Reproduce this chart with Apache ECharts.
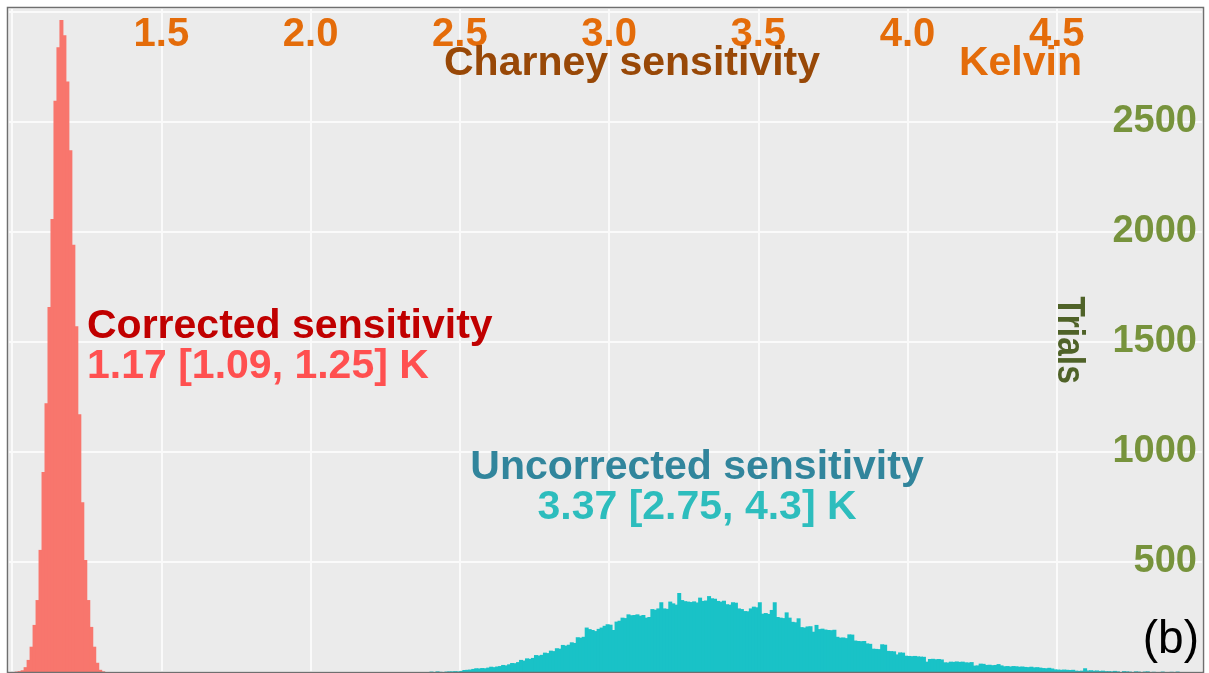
<!DOCTYPE html>
<html>
<head>
<meta charset="utf-8">
<script src="https://cdn.jsdelivr.net/npm/echarts@6/dist/echarts.min.js"></script>
<style>
  html, body { margin: 0; padding: 0; background: #fff; }
  #chart { width: 1209px; height: 673px; }
</style>
</head>
<body>
<div id="chart"></div>
<script>
// histogram bins, 0.01 K wide, counts
var binWidth = 0.01;

var correctedStart = 1.01;
var correctedCounts = [
  2, 4, 8, 22, 55, 115, 214, 327, 555, 909,
  1221, 1659, 2059, 2596, 2840, 2963, 2894, 2684, 2371, 1942,
  1572, 1172, 772, 509, 327, 205, 115, 42, 10, 3
];

var uncorrectedStart = 2.40;
var uncorrectedCounts = [
  2, 0, 3, 1, 0, 2, 3, 3, 4, 3,
  5, 9, 10, 11, 14, 17, 16, 18, 17, 20,
  24, 22, 25, 27, 32, 30, 35, 41, 40, 45,
  55, 52, 62, 60, 64, 77, 75, 78, 88, 86,
  97, 95, 108, 106, 123, 120, 124, 135, 132, 158,
  156, 160, 202, 195, 191, 186, 196, 202, 210, 217,
  215, 191, 229, 233, 247, 245, 262, 258, 259, 262,
  256, 259, 247, 250, 286, 283, 289, 317, 289, 287,
  320, 312, 306, 359, 327, 322, 320, 318, 321, 316,
  338, 323, 325, 345, 335, 333, 323, 320, 324, 308,
  306, 317, 315, 289, 286, 277, 276, 289, 297, 294,
  317, 265, 268, 264, 282, 317, 250, 247, 245, 271,
  247, 228, 226, 244, 204, 202, 207, 208, 183, 214,
  195, 197, 193, 191, 190, 192, 160, 156, 157, 154,
  171, 170, 143, 141, 140, 141, 130, 128, 106, 105,
  104, 126, 124, 96, 95, 94, 80, 89, 88, 74,
  73, 72, 73, 71, 70, 69, 47, 59, 60, 58,
  59, 57, 44, 43, 47, 46, 48, 46, 47, 44,
  43, 45, 29, 30, 38, 37, 32, 33, 31, 32,
  36, 30, 26, 27, 25, 27, 26, 24, 25, 23,
  22, 24, 21, 22, 20, 18, 17, 19, 16, 12,
  11, 10, 11, 10, 9, 10, 6, 5, 6, 17,
  7, 8, 6, 7, 5, 6, 4, 4, 3, 5,
  3, 0, 4, 3, 2, 0, 3, 2, 0, 2,
  3, 0, 1, 0, 0, 2, 0, 0, 1, 0, 2
];

var xTickLabels = ['1.5', '2.0', '2.5', '3.0', '3.5', '4.0', '4.5'];
var yTickLabels = ['500', '1000', '1500', '2000', '2500'];

var FONT = '"Liberation Sans", Arial, sans-serif';

function toBins(start, counts) {
  return counts.map(function (c, i) {
    var lo = +(start + i * binWidth).toFixed(2);
    return [lo, +(lo + binWidth).toFixed(2), c];
  });
}

function renderBin(params, api) {
  var top = api.coord([api.value(0), api.value(2)]);
  var bottom = api.coord([api.value(1), 0]);
  return {
    type: 'rect',
    shape: {
      x: top[0] - 0.5,
      y: top[1],
      width: bottom[0] - top[0] + 1,
      height: bottom[1] - top[1]
    },
    style: { fill: api.visual('color') }
  };
}

var chart = echarts.init(document.getElementById('chart'));

chart.setOption({
  backgroundColor: '#ffffff',
  animation: false,
  grid: {
    left: 8,
    right: 6,
    top: 8,
    bottom: 1,
    show: true,
    backgroundColor: '#EBEBEB',
    borderWidth: 0
  },
  xAxis: {
    type: 'value',
    position: 'top',
    min: 0.986,
    max: 4.99,
    splitNumber: 8,
    axisLine: { show: false },
    axisTick: { show: false },
    splitLine: { lineStyle: { color: '#FAFAFA', width: 2 } },
    axisLabel: {
      inside: true,
      margin: 7,
      color: '#E46C0A',
      fontFamily: FONT,
      fontWeight: 'bold',
      fontSize: 40,
      formatter: function (v) {
        var s = v.toFixed(1);
        return xTickLabels.indexOf(s) >= 0 && Math.abs(v - +s) < 1e-6 ? s : '';
      }
    }
  },
  yAxis: {
    type: 'value',
    position: 'right',
    min: 0,
    max: 3018,
    splitNumber: 6,
    axisLine: { show: false },
    axisTick: { show: false },
    splitLine: { lineStyle: { color: '#FAFAFA', width: 2 } },
    axisLabel: {
      inside: true,
      margin: 6,
      color: '#77933C',
      fontFamily: FONT,
      fontWeight: 'bold',
      fontSize: 38,
      formatter: function (v) {
        var s = String(Math.round(v));
        return yTickLabels.indexOf(s) >= 0 && Math.abs(v - +s) < 1e-6 ? s : '';
      }
    }
  },
  series: [
    {
      name: 'Corrected',
      type: 'custom',
      renderItem: renderBin,
      encode: { x: [0, 1], y: 2 },
      itemStyle: { color: '#F8766D' },
      clip: true,
      data: toBins(correctedStart, correctedCounts)
    },
    {
      name: 'Uncorrected',
      type: 'custom',
      renderItem: renderBin,
      encode: { x: [0, 1], y: 2 },
      itemStyle: { color: '#19C2C7' },
      clip: true,
      data: toBins(uncorrectedStart, uncorrectedCounts)
    }
  ],
  graphic: [
    {
      // panel frame
      type: 'rect', z: 20, silent: true,
      shape: { x: 7.5, y: 7.5, width: 1196, height: 665 },
      style: { fill: null, stroke: '#6f6f6f', lineWidth: 1.5 }
    },
    {
      type: 'text', x: 632, y: 64, z: 10,
      style: { text: 'Charney sensitivity', fill: '#984807', font: 'bold 41px ' + FONT, align: 'center', verticalAlign: 'middle' }
    },
    {
      type: 'text', x: 1082, y: 64, z: 10,
      style: { text: 'Kelvin', fill: '#E46C0A', font: 'bold 41px ' + FONT, align: 'right', verticalAlign: 'middle' }
    },
    {
      type: 'text', x: 1069, y: 340, z: 10, rotation: -Math.PI / 2, scaleX: 0.86,
      style: { text: 'Trials', fill: '#4F6228', font: 'bold 39px "Liberation Sans Narrow", ' + FONT, align: 'center', verticalAlign: 'middle' }
    },
    {
      type: 'text', x: 87, y: 327, z: 10,
      style: { text: 'Corrected sensitivity', fill: '#C00000', font: 'bold 41px ' + FONT, align: 'left', verticalAlign: 'middle' }
    },
    {
      type: 'text', x: 87, y: 367, z: 10,
      style: { text: '1.17 [1.09, 1.25] K', fill: '#FF5050', font: 'bold 41px ' + FONT, align: 'left', verticalAlign: 'middle' }
    },
    {
      type: 'text', x: 697, y: 468, z: 10,
      style: { text: 'Uncorrected sensitivity', fill: '#31859C', font: 'bold 41px ' + FONT, align: 'center', verticalAlign: 'middle' }
    },
    {
      type: 'text', x: 697, y: 508, z: 10,
      style: { text: '3.37 [2.75, 4.3] K', fill: '#2DBDBD', font: 'bold 41px ' + FONT, align: 'center', verticalAlign: 'middle' }
    },
    {
      type: 'text', x: 1199, y: 640, z: 10,
      style: { text: '(b)', fill: '#000000', font: '46px ' + FONT, align: 'right', verticalAlign: 'middle' }
    }
  ]
});
</script>
</body>
</html>
